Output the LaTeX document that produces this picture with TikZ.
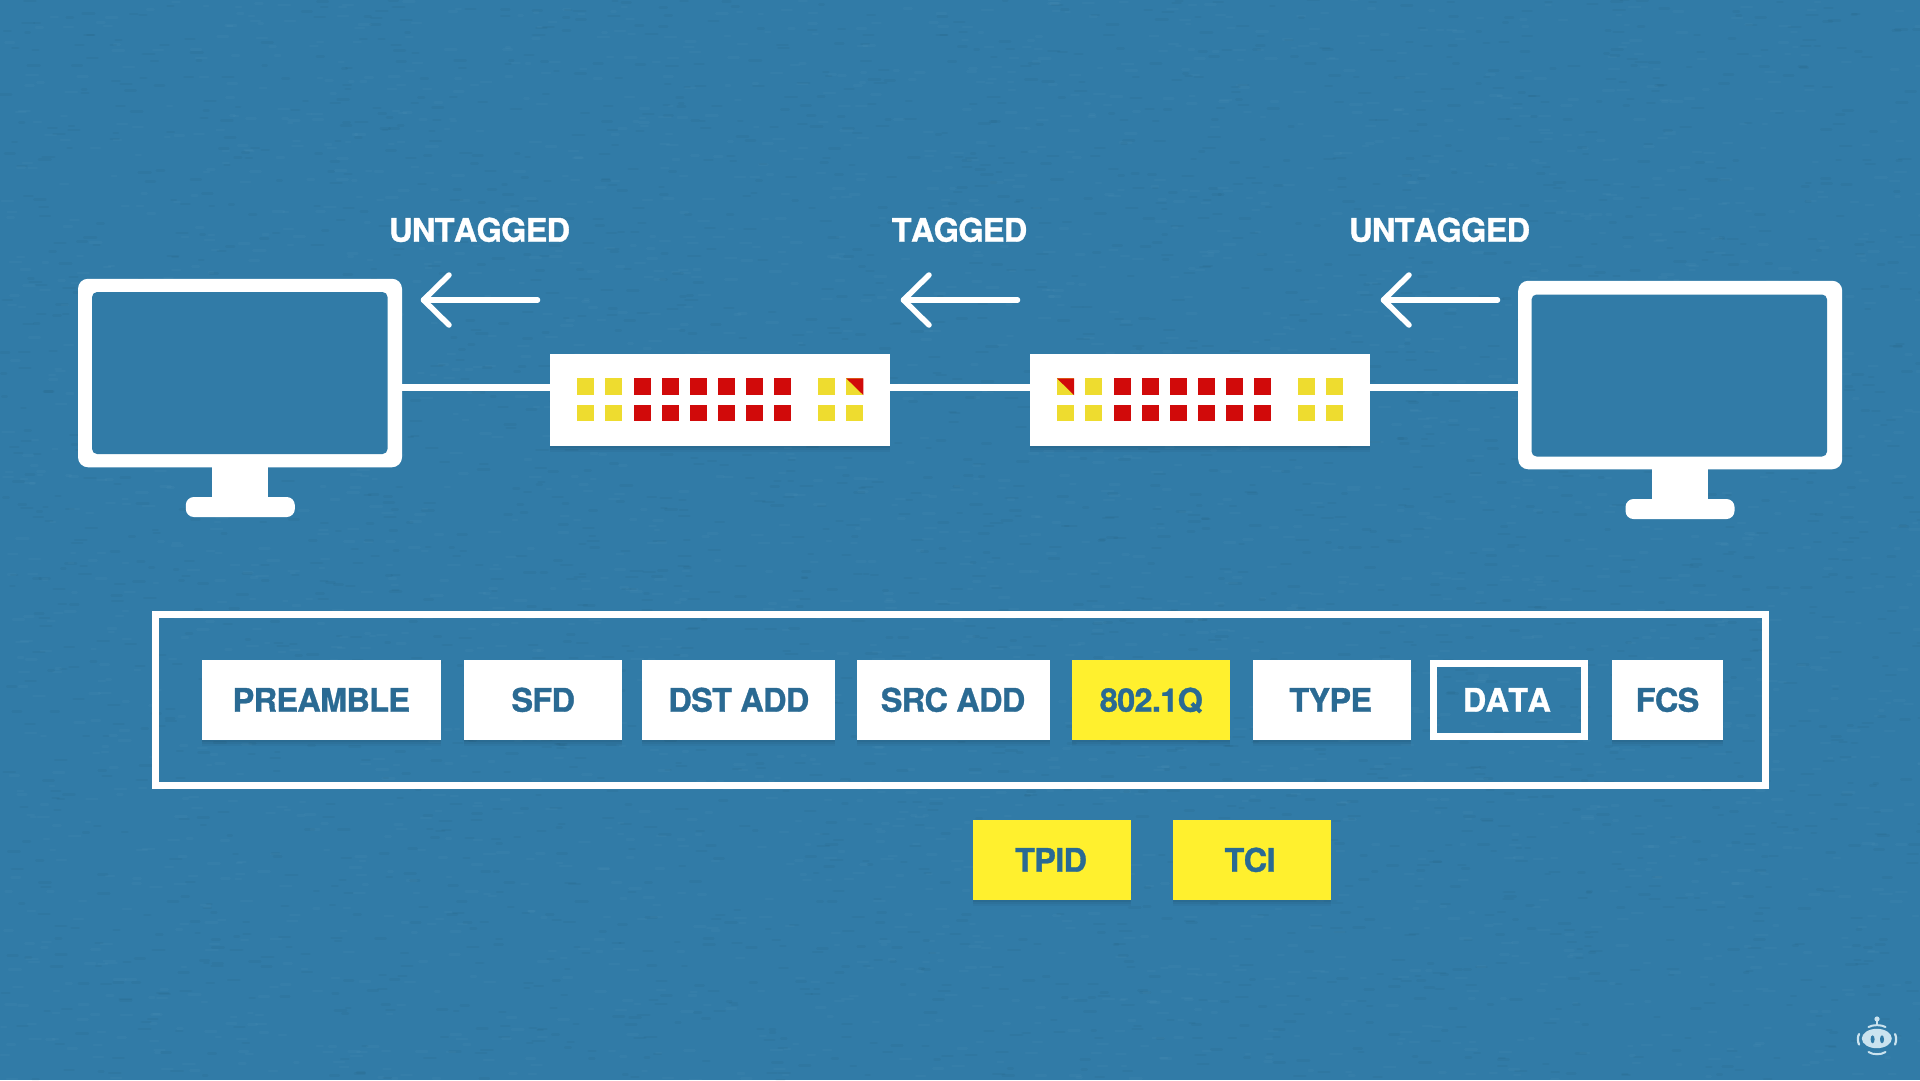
\documentclass[tikz,border=0pt]{standalone}
\usepackage{fontspec}
\usetikzlibrary{shadows}
\newfontfamily\lab[LetterSpace=-2.2,FakeBold=1.0,Kerning=Off]{TeX Gyre Heros Bold}
\definecolor{bgblue}{HTML}{317BA7}
\definecolor{inkblue}{HTML}{2A6A93}
\definecolor{boxyellow}{HTML}{FFF02E}
\definecolor{portyellow}{HTML}{EEDC2F}
\definecolor{portred}{HTML}{D10A0A}
\definecolor{botcol}{HTML}{CBE3EF}
\tikzset{
  softshadow/.style={
    drop shadow={shadow xshift=0pt,shadow yshift=-6pt,opacity=.035,fill=black},
    drop shadow={shadow xshift=0pt,shadow yshift=-4pt,opacity=.04,fill=black},
    drop shadow={shadow xshift=0pt,shadow yshift=-2pt,opacity=.05,fill=black}},
  fieldbox/.style={rectangle,inner sep=0pt,outer sep=0pt,minimum height=80pt,fill=white,softshadow},
  yellowbox/.style={fieldbox,fill=boxyellow,minimum width=158pt},
  databox/.style={rectangle,inner sep=0pt,minimum width=151pt,minimum height=73pt,draw=white,line width=7pt},
  framebox/.style={rectangle,inner sep=0pt,draw=white,line width=7pt,minimum width=1610pt,minimum height=171pt},
  toplabel/.style={anchor=base,inner sep=0pt,text=white,font=\lab\fontsize{32.5}{34}\selectfont},
  boxlabel/.style={anchor=base,inner sep=0pt,text=inkblue,font=\lab\fontsize{32.5}{34}\selectfont},
  screenouter/.style={rectangle,rounded corners=10pt,fill=white,inner sep=0pt,outer sep=0pt,minimum width=324pt,minimum height=188.5pt},
  screeninner/.style={rectangle,rounded corners=5pt,fill=bgblue,inner sep=0pt,outer sep=0pt,minimum width=295.5pt,minimum height=162pt},
  standpart/.style={rectangle,fill=white,inner sep=0pt,outer sep=0pt,minimum width=56pt,minimum height=32pt},
  footpart/.style={rectangle,rounded corners=8pt,fill=white,inner sep=0pt,outer sep=0pt,minimum width=109pt,minimum height=20pt},
  switchbody/.style={rectangle,fill=white,inner sep=0pt,outer sep=0pt,minimum width=340pt,minimum height=92pt,softshadow},
  link/.style={draw=white,line width=7pt},
  flow/.style={draw=white,line width=5.5pt,line cap=round,line join=round},
  portbox/.style={rectangle,inner sep=0pt,outer sep=0pt,minimum width=17.2pt,minimum height=16.8pt},
  porty/.style={portbox,fill=portyellow},
  portr/.style={portbox,fill=portred},
  grain/.style={line width=2.4pt,line cap=round},
}
\begin{document}
\begin{tikzpicture}[x=1pt,y=-1pt]
\useasboundingbox (0,0) rectangle (1920,1080);
\fill[bgblue] (0,0) rectangle (1920,1080);
% paper grain of the background
\pgfmathsetseed{4217}
\begin{scope}
\clip (0,0) rectangle (1920,1080);
\foreach \n in {1,...,3000}{
  \pgfmathsetmacro\px{rnd*1920}\pgfmathsetmacro\py{rnd*1080}\pgfmathsetmacro\pr{4+rnd*8}
  \draw[grain,black,opacity=.03] (\px,\py) -- ++(\pr,0);
  \pgfmathsetmacro\px{rnd*1920}\pgfmathsetmacro\py{rnd*1080}\pgfmathsetmacro\pr{4+rnd*8}
  \draw[grain,white,opacity=.025] (\px,\py) -- ++(\pr,0);
}
\end{scope}

% monitors
\node[standpart] (standL) at (240,481) {};
\node[footpart] (footL) at (240.3,507) {};
\node[screenouter] (monL) at (240,373) {};
\node[screeninner] (scrL) at (239.8,373) {};
\node[standpart] (standR) at (1680.4,483) {};
\node[footpart] (footR) at (1680,509) {};
\node[screenouter] (monR) at (1680.2,375) {};
\node[screeninner] (scrR) at (1679.3,375.5) {};

% switches
\node[switchbody] (swL) at (719.7,400) {};
\node[switchbody] (swR) at (1199.9,400) {};

% connectors
\coordinate (lineA) at (550,387.5);
\coordinate (lineB) at (889.5,387.5);
\coordinate (lineC) at (1369.7,387.5);
\draw[link] (lineA -| monL.east) -- (lineA -| swL.west);
\draw[link] (lineB -| swL.east) -- (lineB -| swR.west);
\draw[link] (lineC -| swR.east) -- (lineC -| monR.west);

% ports
\foreach \col/\xx/\sty in {a/585.5/porty,b/613.8/porty,c/642.3/portr,d/670.3/portr,e/698.3/portr,f/726.3/portr,g/754.3/portr,h/782.7/portr,i/826.5/porty,j/854.8/porty}{
  \node[\sty] (pl\col t) at (\xx,386.7) {};
  \node[\sty] (pl\col b) at (\xx,413) {};
  \node[\sty] (pr\col t) at (\xx+480,386.7) {};
  \node[\sty] (pr\col b) at (\xx+480,413) {};
}
% bicoloured ports
\node[porty] (plcorner) at (854.8,386.7) {};
\fill[portred] (plcorner.north west) -- (plcorner.north east) -- (plcorner.south east) -- cycle;
\node[porty] (prcorner) at (1065.5,386.7) {};
\fill[portred] (prcorner.north west) -- (prcorner.north east) -- (prcorner.south east) -- cycle;

% top arrows and labels
\foreach \nm/\dx/\txt/\tx in {a/0/UNTAGGED/479.6,b/480/TAGGED/959.5,c/960/UNTAGGED/1439.6}{
  \node[toplabel] (lbl\nm) at (\tx,241.7) {\txt};
  \coordinate (tip\nm) at (423.5+\dx,300);
  \coordinate (tail\nm) at (537.5+\dx,300);
  \coordinate (barbu\nm) at (449+\dx,275);
  \coordinate (barbd\nm) at (449+\dx,325);
  \draw[flow] (tail\nm) -- (tip\nm);
  \draw[flow] (barbu\nm) -- (tip\nm) -- (barbd\nm);
}

% frame format
\node[framebox] (frame) at (960,700) {};
\node[fieldbox,minimum width=239pt] (preamble) at (321.5,700) {};
\node[fieldbox,minimum width=158pt] (sfd) at (542.6,700) {};
\node[fieldbox,minimum width=193pt] (dst) at (738.5,700) {};
\node[fieldbox,minimum width=193pt] (src) at (953.5,700) {};
\node[yellowbox] (dotq) at (1151.3,700) {};
\node[fieldbox,minimum width=158pt] (type) at (1331.8,700) {};
\node[databox] (data) at (1509,700) {};
\node[fieldbox,minimum width=111pt] (fcs) at (1667.5,700) {};
\node[yellowbox] (tpid) at (1051.5,860) {};
\node[yellowbox] (tci) at (1251.7,860) {};

\node[boxlabel] (tpreamble) at (321.3,711.7) {PREAMBLE};
\node[boxlabel] (tsfd) at (543.2,711.7) {SFD};
\node[boxlabel] (tdst) at (738.8,711.7) {DST ADD};
\node[boxlabel] (tsrc) at (953,711.7) {SRC ADD};
\node[boxlabel] (tdotq) at (1151.3,711.7) {802.1Q};
\node[boxlabel] (ttype) at (1330.7,711.7) {TYPE};
\node[boxlabel,text=white] (tdata) at (1506.8,711.7) {DATA};
\node[boxlabel] (tfcs) at (1667.5,711.7) {FCS};
\node[boxlabel] (ttpid) at (1051,871.7) {TPID};
\node[boxlabel] (ttci) at (1250,871.7) {TCI};

% corner mascot
\fill[botcol] (1876.8,1038.5) ellipse[x radius=15,y radius=9.7];
\fill[bgblue] (1872.6,1039.3) ellipse[x radius=2,y radius=4];
\fill[bgblue] (1882,1039.3) ellipse[x radius=2,y radius=4];
\fill[botcol] (1877,1019) circle[radius=2.6];
\draw[botcol,line width=1.6pt] (1877,1020) -- (1877,1026);
\draw[botcol,line width=2pt,line cap=round] (1868.5,1027) .. controls (1873,1024.5) and (1881,1024.5) .. (1885.5,1027);
\draw[botcol,line width=2pt,line cap=round] (1868.5,1052) .. controls (1873,1055) and (1881,1055) .. (1885.5,1052);
\draw[botcol,line width=2.2pt,line cap=round] (1859,1034) .. controls (1857.5,1037) and (1857.5,1041) .. (1859,1044.5);
\draw[botcol,line width=2.2pt,line cap=round] (1895,1034) .. controls (1896.5,1037) and (1896.5,1041) .. (1895,1044.5);
\end{tikzpicture}
\end{document}
